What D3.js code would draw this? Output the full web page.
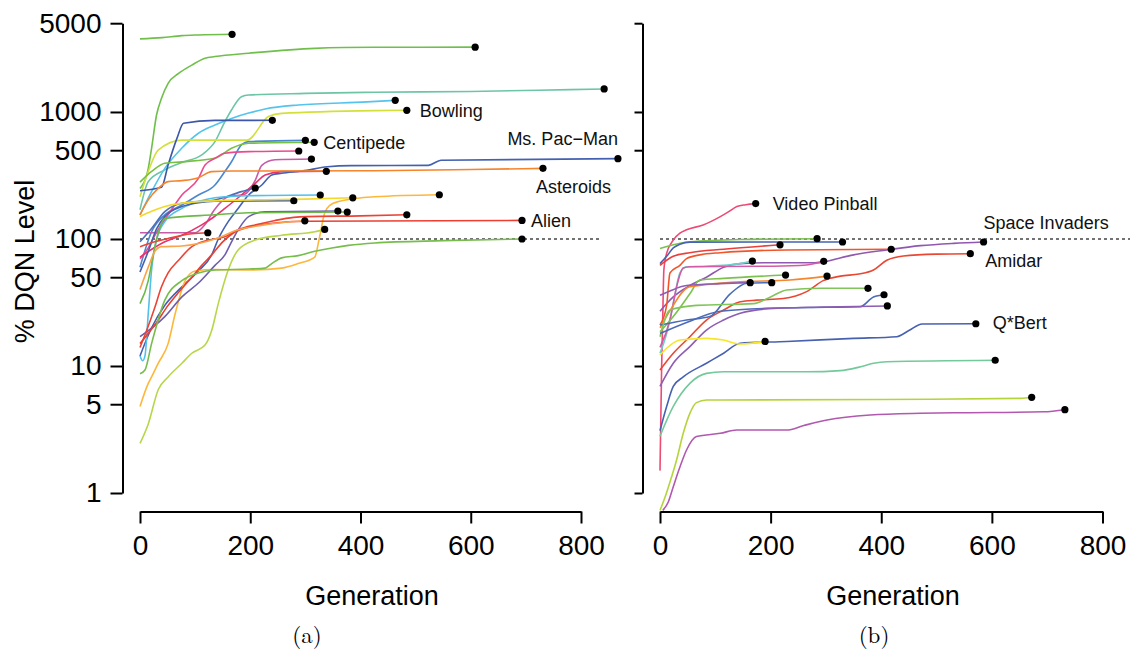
<!DOCTYPE html>
<html><head><meta charset="utf-8">
<script src="https://cdn.jsdelivr.net/npm/d3@7/dist/d3.min.js"></script>
<style>body{margin:0;background:#fff} svg{display:block}</style>
</head><body>
<svg id="chart" width="1130" height="650"></svg>
<script>
// ---------- DATA: [generation, % DQN level] ----------
const xTicks = [0, 200, 400, 600, 800];
const yTicks = [1, 5, 10, 50, 100, 500, 1000, 5000];
const dqnLevel = 100;

// Panel (a)
const a01 = [[0,3760],[40,3850],[76,3990],[106,4040],[167,4090]];
const a02 = [[0,250],[15,360],[21,518],[30,947],[39,1280],[51,1680],[70,2010],[94,2340],[118,2650],[136,2730],[197,2900],[317,3170],[426,3230],[608,3240]];
const a03 = [[0,170],[15,283],[45,350],[76,400],[112,459],[136,584],[154,840],[166,1037],[184,1320],[197,1360],[300,1400],[426,1430],[600,1450],[780,1500],[842,1518]];
const a04 = [[0,155],[21,236],[45,360],[76,520],[106,680],[136,790],[166,890],[197,980],[227,1056],[287,1135],[412,1200],[463,1236]];
const aBowling = [[0,215],[15,340],[33,500],[76,600],[194,600],[233,920],[257,975],[426,1025],[484,1031]];
const a06 = [[0,240],[39,255],[51,383],[67,620],[79,815],[136,858],[240,860]];
const a07 = [[0,60],[21,114],[45,155],[76,185],[106,222],[136,266],[154,340],[166,406],[184,550],[197,584],[300,598]];
const aCentipede = [[0,280],[21,340],[45,395],[76,405],[136,432],[166,518],[197,567],[316,577]];
const a09 = [[0,70],[15,85],[27,107],[51,155],[76,222],[106,300],[118,383],[136,432],[154,473],[197,487],[288,493]];
const a10 = [[0,112],[100,112],[118,130],[135,170],[160,215],[190,225],[209,290],[221,380],[245,420],[311,426]];
const a11 = [[0,72],[45,95],[76,107],[112,129],[130,145],[154,174],[184,222],[209,274],[227,319],[257,339],[338,341]];
const aMsPacMan = [[0,12],[21,20],[45,30],[76,42],[106,56],[130,75],[142,100],[160,137],[178,174],[197,222],[221,266],[239,319],[257,329],[294,343],[340,370],[383,378],[523,380],[546,417],[867,429]];
const aAsteroids = [[0,155],[15,203],[33,250],[51,283],[76,288],[106,304],[130,339],[166,343],[426,345],[600,352],[731,360]];
const a14 = [[0,95],[21,121],[45,164],[76,191],[136,203],[184,236],[209,252]];
const a15 = [[0,12],[5,11],[9,12],[15,26],[21,57],[30,99],[45,137],[76,174],[106,197],[136,211],[197,219],[327,222]];
const a16 = [[0,55],[15,80],[30,120],[45,150],[76,180],[106,193],[136,198],[279,200]];
const a17 = [[0,150],[21,165],[45,180],[106,197],[197,203],[300,206],[386,211]];
const a18 = [[0,4.8],[15,7.3],[21,8.2],[33,10.5],[51,15],[64,26],[82,47],[100,56],[136,57.5],[197,57],[257,59],[287,64],[317,72],[325,100],[335,160],[345,185],[360,197],[426,215],[543,223]];
const a19 = [[0,17],[45,24.5],[76,35],[106,45],[136,62],[154,75],[166,95],[178,118],[197,150],[227,164],[359,166]];
const a20 = [[0,31],[15,47],[21,64],[27,87],[33,111],[45,145],[136,155],[197,161],[376,163]];
const a21 = [[0,14],[12,19],[27,29],[39,42],[51,54],[70,68],[94,87],[124,98],[154,104],[178,118],[212,130],[245,140],[279,148],[303,150],[400,152],[484,155]];
const aAlien = [[0,15],[30,22],[51,30],[70,38],[94,50],[112,62],[130,75],[150,95],[170,112],[200,125],[240,133],[299,138],[693,140]];
const a23 = [[0,40],[15,60],[27,80],[39,87],[76,88],[106,92],[136,100],[178,118],[220,128],[260,135],[299,139]];
const a24 = [[0,2.46],[15,3.5],[33,6.5],[51,8.2],[76,10.5],[94,12.6],[118,14.6],[130,19],[142,31],[160,57],[178,82],[209,98],[257,107],[317,114],[335,119]];
const a25 = [[0,87],[27,95],[51,101],[94,110],[123,112]];
const a26 = [[0,8.7],[9,9.3],[21,15],[45,33],[76,47],[106,54],[136,57],[197,58],[227,59],[239,64],[257,71],[287,74],[317,80],[348,85],[378,89],[426,93],[550,97],[693,100]];

// Panel (b)
const bVideoPinball = [[0,1.5],[3,10],[5,25],[7,57],[12,77],[24,98],[36,111],[48,118],[78,129],[109,150],[125,165],[139,180],[155,186],[173,190]];
const b02 = [[0,84],[24,90],[54,95],[145,99],[284,100.5]];
const b03 = [[0,64],[12,73],[24,85],[36,91],[54,94.5],[330,94.7]];
const b04 = [[0,62],[24,73],[54,78],[115,83],[217,90]];
const bSpaceInvaders = [[0,27],[24,35],[54,43],[84,50],[115,60],[145,64],[200,65],[280,65],[296,66],[320,70],[350,75],[410,82],[471,88.6],[531,92.4],[585,94.7]];
const b06 = [[0,21],[12,30],[18,54],[36,62],[48,70],[72,75],[109,78],[229,82],[418,83]];
const bAmidar = [[0,9.3],[24,12.6],[54,17],[84,23],[115,27.6],[145,32],[175,33],[223,34],[265,38.5],[295,47],[326,51],[360,53],[386,57],[410,68],[440,73.5],[500,76],[561,76.6]];
const b08 = [[0,12.6],[12,18],[24,31],[36,54],[48,60.5],[84,61],[145,64],[167,67]];
const b09 = [[0,14],[18,23],[30,42],[42,59],[54,60.5],[205,61],[265,62.4],[296,66.7]];
const b10 = [[0,18.6],[24,24.5],[54,37],[72,47.5],[115,49],[227,52]];
const b11 = [[0,20],[24,30],[40,38],[54,42],[145,46],[235,47.5],[302,51]];
const b12 = [[0,36],[18,39],[48,43],[109,44.5],[163,45.3]];
const b13 = [[0,21],[48,23],[90,24.5],[127,37],[157,44.8],[202,45.3]];
const b14 = [[0,17],[18,27.6],[66,30],[169,31],[200,35],[229,39.7],[290,40.9],[376,40.9]];
const b15 = [[0,18],[48,22],[109,27],[200,28.5],[300,29],[362,29.3],[386,35],[405,36.4]];
const b16 = [[0,6.9],[24,10.5],[54,14.2],[84,19.2],[115,23],[145,26],[205,28.4],[326,29.3],[411,29.7]];
const bQBert = [[0,3.1],[12,4.8],[24,6.9],[42,8.2],[84,10.5],[115,12.6],[145,15.1],[229,15.6],[350,16.5],[428,17],[450,19],[474,21.4],[571,21.5]];
const b18 = [[0,12.2],[12,13.8],[36,16],[84,16.5],[115,16],[145,14.9],[190,15.6]];
const b19 = [[0,2.8],[24,4.8],[54,7.3],[84,8.75],[115,9],[265,9],[326,9.2],[360,9.8],[386,10.5],[410,10.8],[606,11.1]];
const b20 = [[0,0.73],[10,0.95],[20,1.3],[30,1.82],[42,2.95],[54,4.24],[66,5.15],[84,5.4],[109,5.4],[400,5.45],[652,5.56],[672,5.67]];
const b21 = [[5,0.73],[15,0.85],[24,1.12],[36,1.6],[48,2.18],[66,2.78],[109,2.95],[139,3.13],[229,3.13],[260,3.4],[302,3.76],[380,4.11],[471,4.24],[531,4.28],[694,4.36],[732,4.53]];

const panelASeries = [a01,a02,a03,a04,aBowling,a06,a07,aCentipede,a09,a10,a11,aMsPacMan,aAsteroids,a14,a15,a16,a17,a18,a19,a20,a21,aAlien,a23,a24,a25,a26];
const panelAColors = ["#6fbf4a","#6fbf4a","#6cc5a5","#54c4ec","#d4e03a","#3c57a8","#4a87cf","#78c043","#ec4a8e","#c65ba7","#e8336b","#4361b0","#f5842a","#4d6fb8","#52c0ea","#4762ab","#f2d92a","#fdb83b","#6d5eae","#6cb94a","#ea4436","#ec3f31","#f9a34a","#b7d64a","#e9453a","#76bd4c"];
const panelBSeries = [bVideoPinball,b02,b03,b04,bSpaceInvaders,b06,bAmidar,b08,b09,b10,b11,b12,b13,b14,b15,b16,bQBert,b18,b19,b20,b21];
const panelBColors = ["#ee4a74","#7cc14f","#4563b2","#ea3f3a","#9158b0","#f1562b","#ea4732","#6fcfc8","#d45aa6","#7bc24d","#f5862c","#8e5db3","#4a6bb8","#80c55a","#4d6ab5","#8e5db3","#4761b0","#f6e62b","#73c99b","#b5d43c","#b159ae"];

const panelALabels = [
  {text:"Bowling", series:aBowling, dx:13, dy:0, anchor:"start"},
  {text:"Centipede", series:aCentipede, dx:9, dy:0, anchor:"start"},
  {text:"Ms. Pac\u2212Man", series:aMsPacMan, dx:0, dy:-20, anchor:"end"},
  {text:"Asteroids", series:aAsteroids, dx:-7, dy:18, anchor:"start"},
  {text:"Alien", series:aAlien, dx:9, dy:0, anchor:"start"}
];
const panelBLabels = [
  {text:"Video Pinball", series:bVideoPinball, dx:17, dy:0, anchor:"start"},
  {text:"Space Invaders", series:bSpaceInvaders, dx:0, dy:-19, anchor:"start"},
  {text:"Amidar", series:bAmidar, dx:15, dy:7, anchor:"start"},
  {text:"Q*Bert", series:bQBert, dx:17, dy:-1, anchor:"start"}
];

// ---------- DRAWING ----------
const svg = d3.select("#chart");
const FONT = "'Liberation Sans', Arial, Helvetica, sans-serif";
const SERIF = "'Latin Modern Roman','DejaVu Serif','Liberation Serif',serif";
const y = d3.scaleLog().domain([1, 5000]).range([493, 23.2]);
const xA = d3.scaleLinear().domain([0, 800]).range([140, 581]);
const xB = d3.scaleLinear().domain([0, 800]).range([660, 1102.5]);

function drawPanel(x, yAxisX, series, colors, labels, showYLabels, tickLen, dashEnd) {
  const g = svg.append("g");
  const ya = d3.axisLeft(y).tickValues(yTicks).tickSize(tickLen).tickSizeOuter(0).tickPadding(9)
    .tickFormat(showYLabels ? d3.format("d") : () => "");
  const yg = g.append("g").attr("transform", `translate(${yAxisX},0)`).call(ya);
  yg.selectAll("path,line").attr("stroke", "#000").attr("stroke-width", 2);
  yg.selectAll("text").attr("font-family", FONT).attr("font-size", 28).attr("fill", "#000");
  const xa = d3.axisBottom(x).tickValues(xTicks).tickSize(12).tickSizeOuter(0).tickPadding(12).tickFormat(d3.format("d"));
  const xg = g.append("g").attr("transform", "translate(0,511.5)").call(xa);
  xg.selectAll("path,line").attr("stroke", "#000").attr("stroke-width", 2);
  xg.selectAll("text").attr("font-family", FONT).attr("font-size", 28).attr("fill", "#000");
  g.append("line").attr("x1", x(0)).attr("x2", x(dashEnd)).attr("y1", y(dqnLevel)).attr("y2", y(dqnLevel))
    .attr("stroke", "#444").attr("stroke-width", 1.3).attr("stroke-dasharray", "3,3");
  const line = d3.line().x(d => x(d[0])).y(d => y(d[1])).curve(d3.curveMonotoneX);
  series.forEach((s, i) => {
    g.append("path").attr("d", line(s)).attr("fill", "none").attr("stroke", colors[i])
      .attr("stroke-width", 1.6).attr("stroke-linejoin", "round");
  });
  series.forEach(s => {
    const e = s[s.length - 1];
    g.append("circle").attr("cx", x(e[0])).attr("cy", y(e[1])).attr("r", 3.6).attr("fill", "#000");
  });
  labels.forEach(l => {
    const e = l.series[l.series.length - 1];
    g.append("text").attr("x", x(e[0]) + l.dx).attr("y", y(e[1]) + l.dy).attr("dy", "0.35em")
      .attr("text-anchor", l.anchor).attr("font-family", FONT).attr("font-size", 18).attr("fill", "#111")
      .text(l.text);
  });
}

drawPanel(xA, 122.5, panelASeries, panelAColors, panelALabels, true, 12, 838);
drawPanel(xB, 642.5, panelBSeries, panelBColors, panelBLabels, false, 8, 852);

svg.append("text").attr("transform", "translate(33.5,261.5) rotate(-90)").attr("text-anchor", "middle")
  .attr("font-family", FONT).attr("font-size", 27).text("% DQN Level");
svg.append("text").attr("x", 372).attr("y", 605).attr("text-anchor", "middle")
  .attr("font-family", FONT).attr("font-size", 27).text("Generation");
svg.append("text").attr("x", 893).attr("y", 605).attr("text-anchor", "middle")
  .attr("font-family", FONT).attr("font-size", 27).text("Generation");
svg.append("text").attr("x", 307).attr("y", 643).attr("text-anchor", "middle")
  .attr("font-family", SERIF).attr("font-size", 23).text("(a)");
svg.append("text").attr("x", 874).attr("y", 643).attr("text-anchor", "middle")
  .attr("font-family", SERIF).attr("font-size", 23).text("(b)");
</script></body></html>
